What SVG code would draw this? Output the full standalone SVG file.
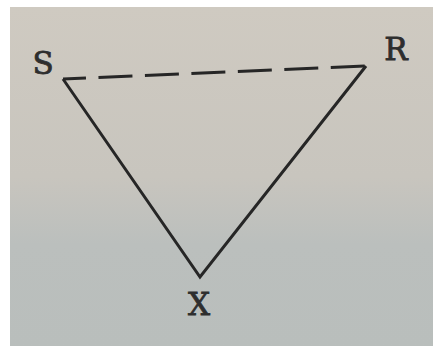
<svg xmlns="http://www.w3.org/2000/svg" width="433" height="349" viewBox="0 0 433 349">
<defs>
<linearGradient id="bg" x1="0" y1="0" x2="0" y2="1">
<stop offset="0" stop-color="#cfcac1"/>
<stop offset="0.5" stop-color="#c8c5be"/>
<stop offset="0.7" stop-color="#bbbfbd"/>
<stop offset="1" stop-color="#b9bebc"/>
</linearGradient>
<style>
.lbl{font-family:"DejaVu Serif","Liberation Serif",serif;font-size:31px;fill:#2e2e2e;stroke:#2e2e2e;stroke-width:0.8;text-anchor:middle}
.edge{stroke:#262626;stroke-width:3;fill:none;stroke-linecap:butt;stroke-linejoin:miter}
.dash{stroke-dasharray:34 12.5;stroke-dashoffset:11}
</style>
</defs>
<rect width="433" height="349" fill="#ffffff"/>
<rect x="10" y="7" width="423" height="339" fill="url(#bg)"/>
<g id="connectors">
<path class="edge" d="M63,79 L200,277 L366,66"/>
<path class="edge dash" d="M63,79 L366,66"/>
</g>
<g id="node-S"><text class="lbl" x="43" y="74">S</text></g>
<g id="node-R"><text class="lbl" x="396" y="60">R</text></g>
<g id="node-X"><text class="lbl" x="199" y="315">X</text></g>
</svg>
